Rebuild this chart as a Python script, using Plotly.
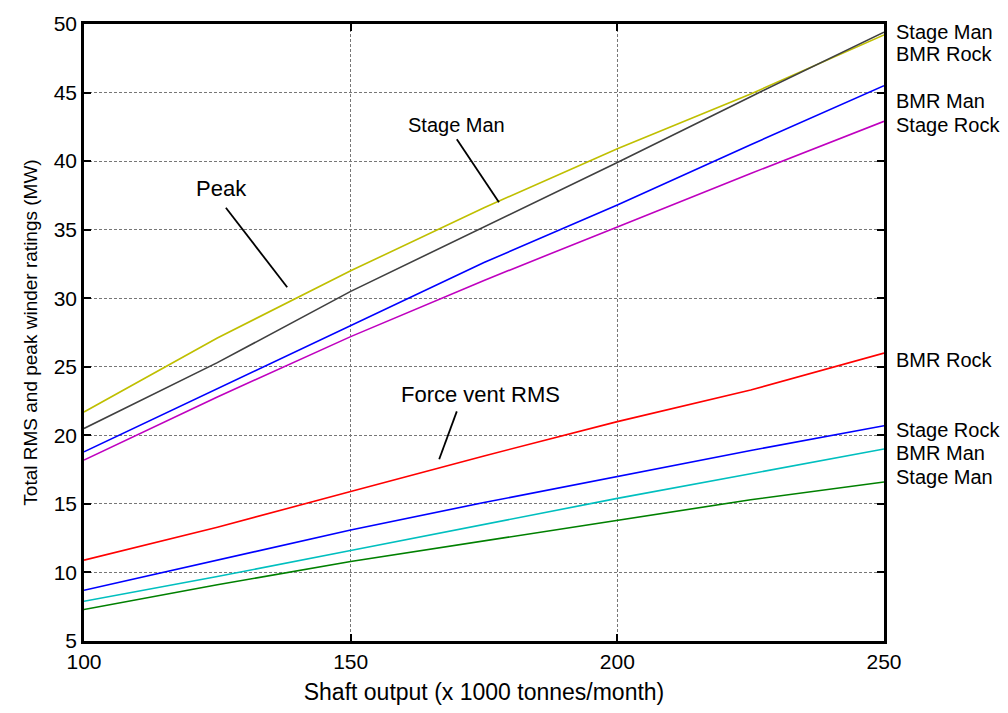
import plotly.graph_objects as go

shaft_output = [100, 125, 150, 175, 200, 225, 250]

peak_bmr_rock = [21.7, 27.1, 32.0, 36.6, 40.9, 44.9, 49.2]
peak_stage_man = [20.5, 25.3, 30.5, 35.2, 39.9, 44.7, 49.4]
peak_bmr_man = [18.8, 23.4, 28.0, 32.6, 36.8, 41.2, 45.5]
peak_stage_rock = [18.2, 22.8, 27.2, 31.3, 35.2, 39.1, 42.9]

rms_bmr_rock = [10.9, 13.3, 15.9, 18.5, 21.0, 23.3, 26.0]
rms_stage_rock = [8.7, 10.9, 13.1, 15.1, 17.0, 18.9, 20.7]
rms_bmr_man = [7.9, 9.7, 11.6, 13.5, 15.4, 17.2, 19.0]
rms_stage_man = [7.3, 9.1, 10.8, 12.3, 13.8, 15.3, 16.6]

series = [
    (peak_bmr_rock, "#bfbf00"),
    (peak_stage_man, "#404040"),
    (peak_bmr_man, "#0000ff"),
    (peak_stage_rock, "#bf00bf"),
    (rms_bmr_rock, "#ff0000"),
    (rms_stage_rock, "#0000ff"),
    (rms_bmr_man, "#00bfbf"),
    (rms_stage_man, "#008000"),
]

end_labels = ["Stage Man", "BMR Rock", "BMR Man", "Stage Rock",
              "BMR Rock", "Stage Rock", "BMR Man", "Stage Man"]
end_label_y = [49.43, 47.79, 44.37, 42.65, 25.53, 20.40, 18.69, 16.98]

callout_text = ["Peak", "Stage Man", "Force vent RMS"]
callout_size = [22, 20, 22]
callout_text_pos = [(125.7, 38.0), (169.75, 42.6), (174.25, 23.0)]
callout_lines = [((126.6, 36.6), (138.1, 30.8)),
                 ((169.9, 41.6), (177.8, 37.0)),
                 ((169.9, 21.75), (166.6, 18.26))]

fam = "Liberation Sans, Arial, sans-serif"

fig = go.Figure()
for vals, col in series:
    fig.add_trace(go.Scatter(x=shaft_output, y=vals, mode="lines",
                             line=dict(color=col, width=1.6), showlegend=False))

annotations = []
for txt, yv in zip(end_labels, end_label_y):
    annotations.append(dict(x=1, xref="paper", y=yv, yref="y", text=txt,
                            showarrow=False, xanchor="left", xshift=10,
                            font=dict(family=fam, size=20, color="black")))
for txt, sz, (tx, ty) in zip(callout_text, callout_size, callout_text_pos):
    annotations.append(dict(x=tx, y=ty, xref="x", yref="y", text=txt,
                            showarrow=False,
                            font=dict(family=fam, size=sz, color="black")))

shapes = []
for (p0, p1) in callout_lines:
    shapes.append(dict(type="line", xref="x", yref="y", x0=p0[0], y0=p0[1],
                       x1=p1[0], y1=p1[1], line=dict(color="black", width=1.8)))

tickfont = dict(family=fam, size=21, color="black")
axis_common = dict(showline=True, linecolor="black", linewidth=2.5, mirror="ticks",
                   ticks="inside", ticklen=7, tickwidth=2, tickcolor="black",
                   showgrid=True, gridcolor="#777777", griddash="3px,2px", gridwidth=1,
                   zeroline=False, tickfont=tickfont)

fig.update_layout(
    width=1008, height=713,
    margin=dict(l=84, r=124, t=17, b=64),
    paper_bgcolor="white", plot_bgcolor="white",
    font=dict(family=fam, color="black"),
    xaxis=dict(range=[100, 250], tickvals=[100, 150, 200, 250],
               title=dict(text="Shaft output (x 1000 tonnes/month)",
                          font=dict(family=fam, size=23, color="black"), standoff=12),
               **axis_common),
    yaxis=dict(range=[5, 50], tickvals=list(range(5, 51, 5)),
               title=dict(text="Total RMS and peak winder ratings (MW)",
                          font=dict(family=fam, size=19, color="black"), standoff=12),
               **axis_common),
    annotations=annotations,
    shapes=shapes,
)

fig.write_html("out.html", config={"displayModeBar": False},
               post_script="document.body.style.margin='0px';")
